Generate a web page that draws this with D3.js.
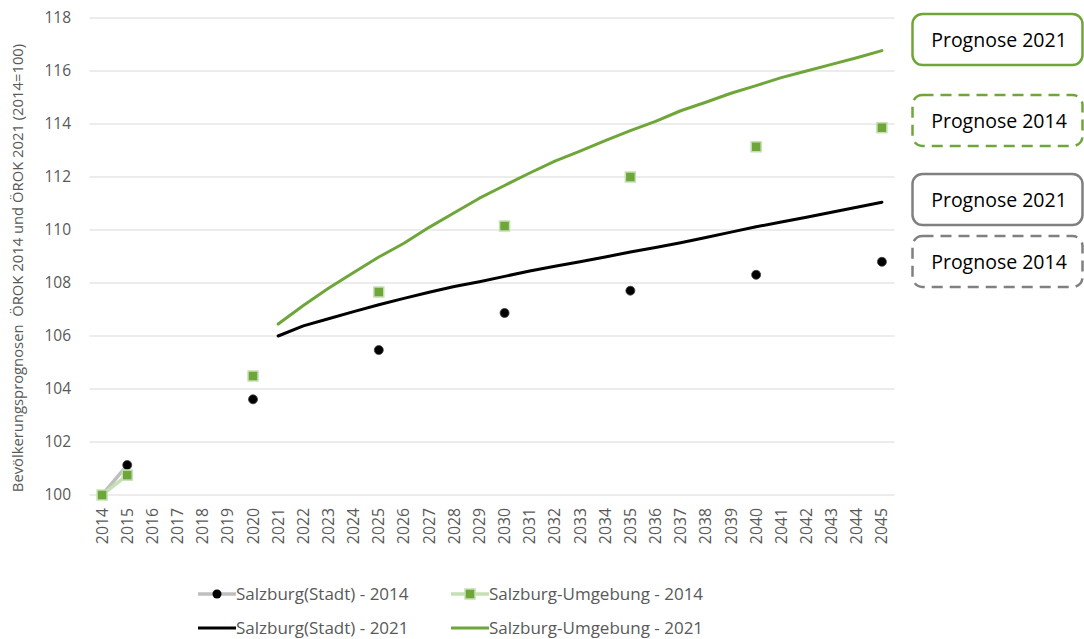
<!DOCTYPE html>
<html>
<head>
<meta charset="utf-8">
<script src="https://cdn.jsdelivr.net/npm/d3@7/dist/d3.min.js"></script>
<style>
  html, body { margin: 0; padding: 0; background: #fff; }
  svg { display: block; }
  text { font-family: "Open Sans", "Noto Sans", sans-serif; }
</style>
</head>
<body>
<svg id="chart" width="1084" height="639"></svg>
<script>
// ---- data ----
const years = d3.range(2014, 2046);
const yTicks = [100, 102, 104, 106, 108, 110, 112, 114, 116, 118];

// ÖROK 2014 projections (only given for selected years)
const stadt2014 = {2014: 100, 2015: 101.13, 2020: 103.61, 2025: 105.47, 2030: 106.87, 2035: 107.71, 2040: 108.31, 2045: 108.8};
const umgebung2014 = {2014: 100, 2015: 100.75, 2020: 104.49, 2025: 107.66, 2030: 110.15, 2035: 112.0, 2040: 113.14, 2045: 113.86};

// ÖROK 2021 projections 2021..2045
const years2021 = d3.range(2021, 2046);
const stadt2021 = [106.0, 106.38, 106.65, 106.92, 107.18, 107.42, 107.65, 107.87, 108.05, 108.25,
                   108.45, 108.63, 108.8, 108.98, 109.17, 109.34, 109.52, 109.72, 109.92, 110.12,
                   110.3, 110.48, 110.67, 110.86, 111.05];
const umgebung2021 = [106.45, 107.15, 107.8, 108.4, 108.98, 109.5, 110.1, 110.65, 111.2, 111.68,
                      112.15, 112.6, 112.98, 113.37, 113.75, 114.1, 114.5, 114.82, 115.16, 115.45,
                      115.75, 116.0, 116.25, 116.5, 116.77];

const legendLabels = ["Salzburg(Stadt) - 2014", "Salzburg-Umgebung - 2014", "Salzburg(Stadt) - 2021", "Salzburg-Umgebung - 2021"];
const boxLabels = ["Prognose 2021", "Prognose 2014", "Prognose 2021", "Prognose 2014"];
const yTitle = "Bevölkerungsprognosen  ÖROK 2014 und ÖROK 2021 (2014=100)";

// ---- styles ----
const GREEN = "#6fa63a", LIGHTGREEN = "#c5e0b4", LIGHTGRAY = "#bfbfbf", GRAY = "#808080", TXT = "#595959";

const svg = d3.select("#chart");
const x = d3.scaleBand().domain(years).range([89.5, 894.5]).padding(0);
const cx = d => x(d) + x.bandwidth() / 2;
const y = d3.scaleLinear().domain([100, 118]).range([495, 18]);

// gridlines
svg.append("g").selectAll("line").data(yTicks).join("line")
  .attr("x1", 89.5).attr("x2", 894.5)
  .attr("y1", d => y(d)).attr("y2", d => y(d))
  .attr("stroke", "#d9d9d9").attr("stroke-width", 1);

// y axis
const yAxis = svg.append("g").attr("transform", "translate(75,0)")
  .call(d3.axisLeft(y).tickValues(yTicks).tickSize(0).tickPadding(0).tickFormat(d3.format("d")));
yAxis.select(".domain").remove();
yAxis.selectAll("text").attr("fill", TXT).style("font-size", "15.5px").attr("dx", "-4");

// x axis
const xAxis = svg.append("g").attr("transform", "translate(0,506)")
  .call(d3.axisBottom(x).tickSize(0).tickPadding(0).tickFormat(d3.format("d")));
xAxis.select(".domain").remove();
xAxis.selectAll("text")
  .attr("fill", TXT).style("font-size", "15.8px")
  .attr("text-anchor", "end")
  .attr("transform", "rotate(-90)")
  .attr("x", -2).attr("y", 0).attr("dy", "0.35em");

// y title
svg.append("text")
  .attr("transform", "translate(23,268) rotate(-90)")
  .attr("text-anchor", "middle")
  .attr("fill", TXT).style("font-size", "14.8px")
  .style("white-space", "pre")
  .text(yTitle);

// series
const s2014 = [
  {vals: stadt2014, line: LIGHTGRAY, marker: "circle"},
  {vals: umgebung2014, line: LIGHTGREEN, marker: "square"}
];
const lineGen = d3.line().defined(d => d.v != null).x(d => cx(d.year)).y(d => y(d.v));

s2014.forEach(s => {
  const pts = years.map(yr => ({year: yr, v: s.vals[yr] != null ? s.vals[yr] : null}));
  svg.append("path").datum(pts).attr("d", lineGen)
    .attr("fill", "none").attr("stroke", s.line).attr("stroke-width", 3.5).attr("stroke-linejoin", "round");
});
function drawMarkers(s) {
  const pts = years.filter(yr => s.vals[yr] != null).map(yr => ({year: yr, v: s.vals[yr]}));
  if (s.marker === "circle") {
    svg.append("g").selectAll("circle").data(pts).join("circle")
      .attr("cx", d => cx(d.year)).attr("cy", d => y(d.v)).attr("r", 4.5)
      .attr("fill", "#000").attr("stroke", "#404040").attr("stroke-width", 0.8);
  } else {
    svg.append("g").selectAll("rect").data(pts).join("rect")
      .attr("x", d => cx(d.year) - 5).attr("y", d => y(d.v) - 5).attr("width", 10).attr("height", 10)
      .attr("fill", GREEN).attr("stroke", LIGHTGREEN).attr("stroke-width", 1.5);
  }
}
s2014.forEach(drawMarkers);

const s2021 = [
  {vals: stadt2021, color: "#000"},
  {vals: umgebung2021, color: GREEN}
];
s2021.forEach(s => {
  const pts = years2021.map((yr, i) => ({year: yr, v: s.vals[i]}));
  svg.append("path").datum(pts).attr("d", lineGen)
    .attr("fill", "none").attr("stroke", s.color).attr("stroke-width", 3).attr("stroke-linejoin", "round").attr("stroke-linecap", "round");
});

// legend
const legendItems = [
  {label: legendLabels[0], line: LIGHTGRAY, marker: "circle", x: 198, y: 594},
  {label: legendLabels[1], line: LIGHTGREEN, marker: "square", x: 451, y: 594},
  {label: legendLabels[2], line: "#000", marker: null, x: 198, y: 628},
  {label: legendLabels[3], line: GREEN, marker: null, x: 451, y: 628}
];
const lg = svg.append("g");
legendItems.forEach(it => {
  const g = lg.append("g").attr("transform", `translate(${it.x},${it.y})`);
  g.append("line").attr("x1", 0).attr("x2", 38).attr("y1", 0).attr("y2", 0)
    .attr("stroke", it.line).attr("stroke-width", it.marker ? 3.5 : 3);
  if (it.marker === "circle") g.append("circle").attr("cx", 19).attr("cy", 0).attr("r", 4.5).attr("fill", "#000");
  if (it.marker === "square") g.append("rect").attr("x", 14).attr("y", -5).attr("width", 10).attr("height", 10)
    .attr("fill", GREEN).attr("stroke", LIGHTGREEN).attr("stroke-width", 1.5);
  g.append("text").attr("x", 38).attr("y", 0).attr("dy", "0.35em")
    .attr("fill", TXT).style("font-size", "17px").text(it.label);
});

// annotation boxes
const boxes = [
  {y: 14, color: GREEN, dash: null},
  {y: 95, color: GREEN, dash: "11,7"},
  {y: 174, color: GRAY, dash: null},
  {y: 236, color: GRAY, dash: "11,7"}
];
boxes.forEach((b, i) => {
  const r = svg.append("rect").attr("x", 912.5).attr("y", b.y).attr("width", 170).attr("height", 51)
    .attr("rx", 10).attr("ry", 10).attr("fill", "#fff").attr("stroke", b.color).attr("stroke-width", 2.5);
  if (b.dash) r.attr("stroke-dasharray", b.dash);
  svg.append("text").attr("x", 999).attr("y", b.y + 26).attr("dy", "0.35em")
    .attr("text-anchor", "middle").attr("fill", "#000").style("font-size", "19.5px").text(boxLabels[i]);
});
</script>
</body>
</html>
